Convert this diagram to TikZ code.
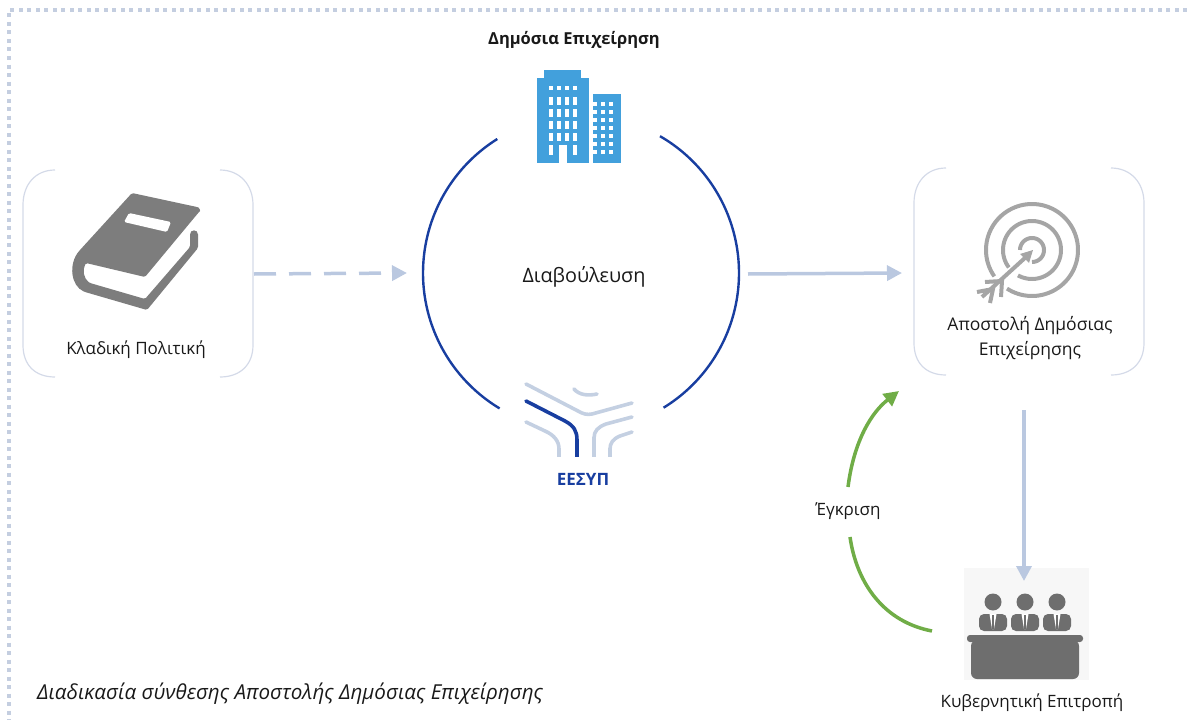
\documentclass[tikz,border=0pt]{standalone}
\usepackage{fontspec}
\setmainfont{Open Sans}
\usetikzlibrary{arrows.meta}
\definecolor{flowblue}{RGB}{186,200,224}
\definecolor{bracket}{RGB}{212,218,232}
\definecolor{navy}{RGB}{24,62,160}
\definecolor{logolight}{RGB}{196,208,226}
\definecolor{bookgray}{RGB}{125,125,125}
\definecolor{targetgray}{RGB}{165,165,165}
\definecolor{panelgray}{RGB}{110,110,110}
\definecolor{bldblue}{RGB}{66,160,220}
\definecolor{greenarc}{RGB}{112,173,71}
\definecolor{bordercol}{RGB}{196,206,224}
\tikzset{
  lbl/.style={font=\fontsize{17}{25}\selectfont,text=black!90,align=center,inner sep=0pt},
  flow/.style={draw=flowblue,line width=3.5pt,-{Triangle[length=15pt,width=15pt]}},
  green arc/.style={draw=greenarc,line width=3.5pt},
  bracket line/.style={draw=bracket,line width=1.2pt},
  ring/.style={draw=navy,line width=2.4pt},
  logo light/.style={draw=logolight,line width=3.6pt,line cap=round},
  logo dark/.style={draw=navy,line width=3.6pt,line cap=round},
  target line/.style={draw=targetgray,line width=4pt},
  win/.style={fill=white,draw=none}
}
\begin{document}
\begin{tikzpicture}[x=1pt,y=-1pt]
\useasboundingbox (0,0) rectangle (1187,720);
% border
\draw[bordercol,line width=4pt,dash pattern=on 4pt off 4.5pt] (1187,10) -- (9,10) -- (9,720);
% brackets
\draw[bracket line] (55,170) .. controls (35,170) and (23,185) .. (23,205) -- (23,345) .. controls (23,365) and (35,377) .. (55,377);
\draw[bracket line] (220,170) .. controls (240,170) and (253,185) .. (253,205) -- (253,345) .. controls (253,365) and (240,377) .. (220,377);
\draw[bracket line] (946,168) .. controls (926,168) and (914,183) .. (914,203) -- (914,343) .. controls (914,363) and (926,375) .. (946,375);
\draw[bracket line] (1111,168) .. controls (1131,168) and (1144,183) .. (1144,203) -- (1144,343) .. controls (1144,363) and (1131,375) .. (1111,375);
% consultation ring
\draw[ring] plot[domain=121:238,samples=80] ({581+158*cos(\x)},{273+158*sin(\x)});
\draw[ring] plot[domain=-60:58.5,samples=80] ({581+158*cos(\x)},{273+158*sin(\x)});
% labels
\node[lbl,font=\fontsize{16.5}{20}\selectfont\bfseries] (company) at (574,40) {Δημόσια Επιχείρηση};
\node[lbl,font=\fontsize{19.8}{24}\selectfont] (consult) at (584,276.5) {Διαβούλευση};
\node[lbl] (policy) at (136,349.5) {Κλαδική Πολιτική};
\node[lbl,font=\fontsize{17.5}{25}\selectfont] (mission) at (1030,338.5) {Αποστολή Δημόσιας\\Επιχείρησης};
\node[lbl] (board) at (1032,703) {Κυβερνητική Επιτροπή};
\node[lbl] (approval) at (848,511) {Έγκριση};
\node[lbl,font=\fontsize{20.6}{24}\selectfont\itshape] (caption) at (290,693.5) {Διαδικασία σύνθεσης Αποστολής Δημόσιας Επιχείρησης};
\node[lbl,font=\fontsize{17}{20}\selectfont\bfseries,text=navy] (eesyp) at (583,479.5) {ΕΕΣΥΠ};
% connector ends
\coordinate (policyout) at (254,274);
\coordinate (ringin) at (407,273);
\coordinate (ringout) at (748,274);
\coordinate (missionin) at (902,273);
\coordinate (missionout) at (1024,410);
\coordinate (boardin) at (1024,581);
\coordinate (boardout) at (932,631);
\coordinate (approvalin) at (850,537);
\coordinate (approvalout) at (848,487);
\coordinate (missionback) at (899,391);
% building
\fill[bldblue] (544,70) rectangle (581,78);
\fill[bldblue] (537,78) rectangle (589,163);
\fill[bldblue] (593,94) rectangle (621,163);
\foreach \cx in {549,557,565,573} {
  \fill[win] (\cx,86) rectangle +(4,4);
  \foreach \ry in {97,109,121,133} { \fill[win] (\cx,\ry) rectangle +(4,8); }
}
\foreach \cx in {549,573} { \fill[win] (\cx,144.5) rectangle +(4,10); }
\fill[win] (559,144.5) rectangle (567,163);
\foreach \ry in {102,110,118,126,134,142,150} {
  \fill[win] (593,\ry) rectangle +(4,4);
  \fill[win] (601,\ry) rectangle +(3.5,4);
  \fill[win] (609,\ry) rectangle +(3.5,4);
}
% logo
\draw[logo light] (526,384) -- (578,411) .. controls (583,414) and (587,415) .. (592,414) -- (632,403);
\draw[logo light] (574,389) .. controls (579,395) and (588,396) .. (597,394);
\draw[logo light] (526,422) -- (545,431) .. controls (554,435) and (559,441) .. (559,449);
\draw[logo light,line cap=butt] (559,448) -- (559,457);
\draw[logo light] (632,417) -- (606,424) .. controls (598,427) and (594,431) .. (594,438);
\draw[logo light,line cap=butt] (594,437) -- (594,457);
\draw[logo light] (632,432) -- (620,436) .. controls (613,439) and (610,443) .. (610,449);
\draw[logo light,line cap=butt] (610,448) -- (610,457);
\draw[logo dark] (526,401) -- (565,421) .. controls (574,426) and (577,431) .. (577,440);
\draw[logo dark,line cap=butt] (577,439) -- (577,457);
% book
\fill[bookgray,rounded corners=1.5pt] (132,193) -- (197,207) .. controls (200,208) and (200,211) .. (199,212) -- (145,277) -- (86,263)
  .. controls (82,270) and (84,279) .. (90,283) -- (145,299) -- (190,247) -- (190,236)
  .. controls (190,229) and (198,229) .. (198,236) -- (198,248) -- (147,310) -- (85,292)
  .. controls (71,286) and (68,264) .. (80,250) -- cycle;
\fill[white,rounded corners=1.5pt] (129,213) -- (171,222) -- (167,232) -- (124,222) -- cycle;
% target
\draw[target line] plot[domain=145:483,samples=90] ({1032+46*cos(\x)},{250+46*sin(\x)});
\draw[target line] plot[domain=143:479,samples=80] ({1032+29*cos(\x)},{250+29*sin(\x)});
\draw[target line] plot[domain=180:450,samples=60] ({1032+12*cos(\x)},{250+12*sin(\x)});
\draw[target line] (982,297) -- (1026,257);
\fill[targetgray] (1033,250) -- (1020,254) -- (1029,263) -- cycle;
\draw[target line] (985,282) -- (1002,281) -- (1001,297);
\draw[target line] (977,292) -- (993,289) -- (990,303);
% panel
\fill[black!3] (964,568) rectangle (1089,680);
\foreach \px in {993,1025,1057} {
  \fill[panelgray] (\px,602) circle (8.5);
  \fill[panelgray,rounded corners=5pt] (\px-14,631) -- (\px-14,614) -- (\px+14,614) -- (\px+14,631) -- cycle;
  \fill[white] (\px-3.5,614) -- (\px+3.5,614) -- (\px+1,629) -- (\px-1,629) -- cycle;
  \fill[panelgray] (\px-1.2,615) -- (\px+1.2,615) -- (\px+1.2,629) -- (\px-1.2,629) -- cycle;
}
\fill[panelgray,rounded corners=3pt] (967,635) rectangle (1083,642);
\fill[panelgray,rounded corners=6pt] (971,640) rectangle (1079,679);
% connectors
\draw[flow,dash pattern=on 22pt off 13pt] (policyout) -- (ringin);
\draw[flow] (ringout) -- (missionin);
\draw[flow] (missionout) -- (boardin);
\draw[green arc] (boardout) .. controls (885,622) and (857,585) .. (approvalin);
\draw[green arc,-{Triangle[length=15pt,width=15pt]}] (approvalout) .. controls (854,440) and (872,412) .. (missionback);
\end{tikzpicture}
\end{document}
